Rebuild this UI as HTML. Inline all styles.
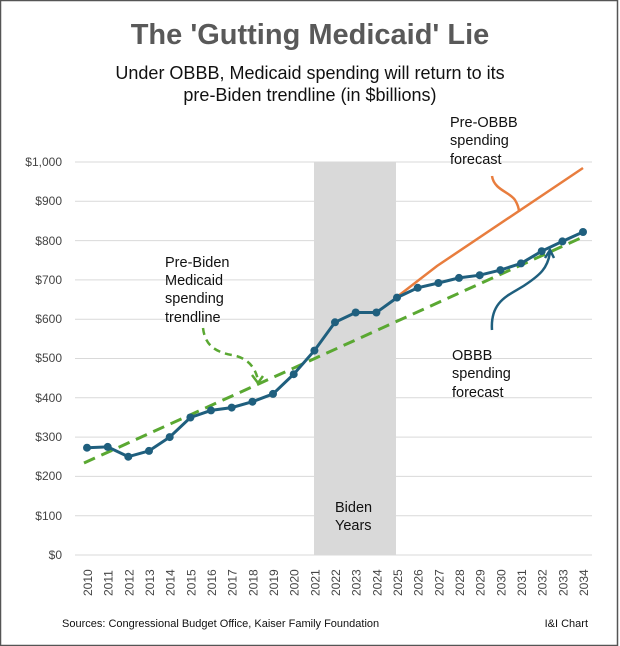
<!DOCTYPE html>
<html><head><style>body{margin:0;background:#fff}svg{display:block}</style></head><body>
<svg width="620" height="646" xmlns="http://www.w3.org/2000/svg" font-family="Liberation Sans, sans-serif">
<rect x="0" y="0" width="620" height="646" fill="#fff"/>
<rect x="0.5" y="0.5" width="617" height="645" fill="none" stroke="#555" stroke-width="1.5"/>
<text x="310" y="44" text-anchor="middle" font-size="29" font-weight="bold" fill="#595959">The 'Gutting Medicaid' Lie</text>
<text x="310" y="79" text-anchor="middle" font-size="18" fill="#111">Under OBBB, Medicaid spending will return to its</text>
<text x="310" y="101" text-anchor="middle" font-size="18" fill="#111">pre-Biden trendline (in $billions)</text>
<rect x="314" y="162" width="82" height="393" fill="#d9d9d9"/>
<g stroke="#d9d9d9" stroke-width="1">
<line x1="75" x2="592" y1="162" y2="162"/><line x1="75" x2="592" y1="201.3" y2="201.3"/><line x1="75" x2="592" y1="240.6" y2="240.6"/><line x1="75" x2="592" y1="279.9" y2="279.9"/><line x1="75" x2="592" y1="319.2" y2="319.2"/><line x1="75" x2="592" y1="358.5" y2="358.5"/><line x1="75" x2="592" y1="397.8" y2="397.8"/><line x1="75" x2="592" y1="437.1" y2="437.1"/><line x1="75" x2="592" y1="476.4" y2="476.4"/><line x1="75" x2="592" y1="515.7" y2="515.7"/><line x1="75" x2="592" y1="555" y2="555"/>
</g>
<g font-size="12" fill="#444" text-anchor="end">
<text x="62" y="166">$1,000</text><text x="62" y="205">$900</text><text x="62" y="245">$800</text><text x="62" y="284">$700</text><text x="62" y="323">$600</text><text x="62" y="362">$500</text><text x="62" y="402">$400</text><text x="62" y="441">$300</text><text x="62" y="480">$200</text><text x="62" y="520">$100</text><text x="62" y="559">$0</text>
</g>
<g font-size="12" fill="#444" id="xl"></g>
<g font-size="12" fill="#444">
<text transform="translate(92,596) rotate(-90)">2010</text><text transform="translate(112.7,596) rotate(-90)">2011</text><text transform="translate(133.3,596) rotate(-90)">2012</text><text transform="translate(154,596) rotate(-90)">2013</text><text transform="translate(174.7,596) rotate(-90)">2014</text><text transform="translate(195.4,596) rotate(-90)">2015</text><text transform="translate(216,596) rotate(-90)">2016</text><text transform="translate(236.7,596) rotate(-90)">2017</text><text transform="translate(257.4,596) rotate(-90)">2018</text><text transform="translate(278,596) rotate(-90)">2019</text><text transform="translate(298.7,596) rotate(-90)">2020</text><text transform="translate(319.4,596) rotate(-90)">2021</text><text transform="translate(340,596) rotate(-90)">2022</text><text transform="translate(360.7,596) rotate(-90)">2023</text><text transform="translate(381.4,596) rotate(-90)">2024</text><text transform="translate(402,596) rotate(-90)">2025</text><text transform="translate(422.7,596) rotate(-90)">2026</text><text transform="translate(443.4,596) rotate(-90)">2027</text><text transform="translate(464,596) rotate(-90)">2028</text><text transform="translate(484.7,596) rotate(-90)">2029</text><text transform="translate(505.4,596) rotate(-90)">2030</text><text transform="translate(526,596) rotate(-90)">2031</text><text transform="translate(546.7,596) rotate(-90)">2032</text><text transform="translate(567.4,596) rotate(-90)">2033</text><text transform="translate(588,596) rotate(-90)">2034</text>
</g>
<polyline fill="none" stroke="#e87d3e" stroke-width="2.5" points="396,297.6 437,266 583,168"/>
<line x1="84" y1="463" x2="583" y2="237" stroke="#5aa832" stroke-width="3" stroke-dasharray="12,7"/>
<polyline fill="none" stroke="#1f5f7e" stroke-width="3" points="87,447.7 107.7,446.9 128.3,456.7 149,450.9 169.7,437.1 190.4,417.5 211,410.4 231.7,407.6 252.4,401.7 273,393.9 293.7,374.2 314.4,350.6 335,322.3 355.7,312.5 376.4,312.5 397,297.6 417.7,287.8 438.4,283 459,277.9 479.7,275.2 500.4,270.1 521,263.4 541.7,251.2 562.4,241.4 583,232"/>
<g fill="#1f5f7e">
<circle cx="87" cy="447.7" r="4"/><circle cx="107.7" cy="446.9" r="4"/><circle cx="128.3" cy="456.7" r="4"/><circle cx="149" cy="450.9" r="4"/><circle cx="169.7" cy="437.1" r="4"/><circle cx="190.4" cy="417.5" r="4"/><circle cx="211" cy="410.4" r="4"/><circle cx="231.7" cy="407.6" r="4"/><circle cx="252.4" cy="401.7" r="4"/><circle cx="273" cy="393.9" r="4"/><circle cx="293.7" cy="374.2" r="4"/><circle cx="314.4" cy="350.6" r="4"/><circle cx="335" cy="322.3" r="4"/><circle cx="355.7" cy="312.5" r="4"/><circle cx="376.4" cy="312.5" r="4"/><circle cx="397" cy="297.6" r="4"/><circle cx="417.7" cy="287.8" r="4"/><circle cx="438.4" cy="283" r="4"/><circle cx="459" cy="277.9" r="4"/><circle cx="479.7" cy="275.2" r="4"/><circle cx="500.4" cy="270.1" r="4"/><circle cx="521" cy="263.4" r="4"/><circle cx="541.7" cy="251.2" r="4"/><circle cx="562.4" cy="241.4" r="4"/><circle cx="583" cy="232" r="4"/>
</g>
<g font-size="14.5" fill="#111">
<text x="165" y="267">Pre-Biden</text><text x="165" y="285">Medicaid</text><text x="165" y="303">spending</text><text x="165" y="322">trendline</text>
<text x="452" y="360">OBBB</text><text x="452" y="378">spending</text><text x="452" y="397">forecast</text>
<text x="450" y="127">Pre-OBBB</text><text x="450" y="145">spending</text><text x="450" y="164">forecast</text>
<text x="335" y="512">Biden</text><text x="335" y="530">Years</text>
</g>
<path d="M203,328 C205,345 215,352 232,355 C248,358 255,367 258,380" fill="none" stroke="#5aa832" stroke-width="2.5" stroke-dasharray="7,5"/>
<path d="M252,375 L258,383 L263,376" fill="none" stroke="#5aa832" stroke-width="2.5"/>
<path d="M492,330 C490,300 510,295 525,285 C540,275 548,268 550,252" fill="none" stroke="#1f5f7e" stroke-width="2.5"/>
<path d="M545,258 L550,250 L554,258" fill="none" stroke="#1f5f7e" stroke-width="2.5"/>
<path d="M492,176 C494,190 510,192 515,200 C518,205 519,208 519,212" fill="none" stroke="#e87d3e" stroke-width="2.5"/>
<g font-size="11" fill="#111"><text x="62" y="627">Sources: Congressional Budget Office, Kaiser Family Foundation</text><text x="588" y="627" text-anchor="end">I&amp;I Chart</text></g>
</svg>
</body></html>
